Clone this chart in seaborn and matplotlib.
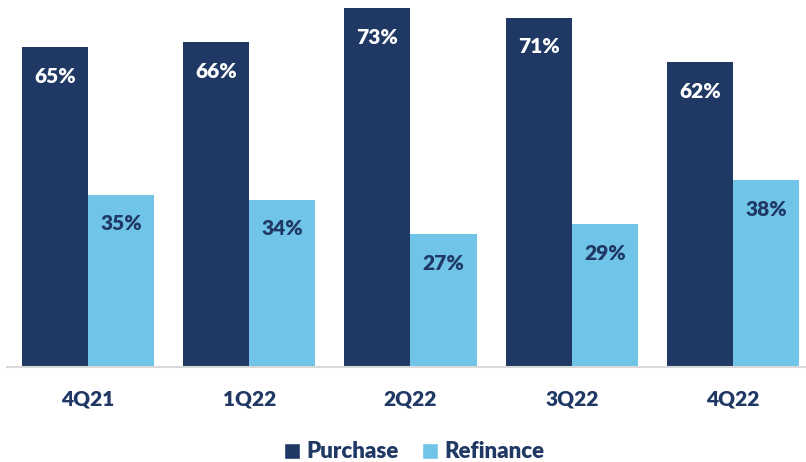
import matplotlib
matplotlib.use("Agg")
import matplotlib.pyplot as plt
from matplotlib.patches import Patch
import seaborn as sns
import pandas as pd

quarters = ["4Q21", "1Q22", "2Q22", "3Q22", "4Q22"]
purchase = [65, 66, 73, 71, 62]
refinance = [35, 34, 27, 29, 38]
series = ["Purchase", "Refinance"]

NAVY = "#1F3864"
LIGHT = "#70C4E8"
FONT = "Lato"
WEIGHT = "heavy"

df = pd.DataFrame({
    "quarter": quarters * 2,
    "share": purchase + refinance,
    "type": [series[0]] * len(quarters) + [series[1]] * len(quarters),
})

sns.set_theme(style="white")
plt.rcParams["font.family"] = [FONT, "DejaVu Sans"]

fig = plt.figure(figsize=(8.06, 4.62), dpi=100)
ax = fig.add_axes([7.4 / 806, 1 - 367 / 462, (806 - 7.4) / 806, 367 / 462])

sns.barplot(data=df, x="quarter", y="share", hue="type", order=quarters,
            hue_order=series, palette=[NAVY, LIGHT], width=0.82,
            saturation=1, legend=False, linewidth=0, ax=ax)

ax.set_xlim(-0.5, 4.453)
ax.set_ylim(0, 74.6)
ax.set_xlabel("")
ax.set_ylabel("")
ax.set_yticks([])
for side in ["top", "left", "right"]:
    ax.spines[side].set_visible(False)
ax.spines["bottom"].set_color("#D9D9D9")
ax.spines["bottom"].set_linewidth(1.5)
ax.tick_params(axis="x", length=0, pad=16, labelsize=15, labelcolor=NAVY)
for lbl in ax.get_xticklabels():
    lbl.set_fontweight(WEIGHT)

for container, txt_color in zip(ax.containers, ["white", NAVY]):
    for bar in container:
        h = bar.get_height()
        ax.annotate(f"{h:.0f}%", (bar.get_x() + bar.get_width() / 2, h),
                    xytext=(0, -21), textcoords="offset points",
                    ha="center", va="center", fontsize=15,
                    fontweight=WEIGHT, color=txt_color)

handles = [Patch(facecolor=NAVY, label=series[0]),
           Patch(facecolor=LIGHT, label=series[1])]
fig.legend(handles=handles, loc="center", bbox_to_anchor=(414 / 806, 1 - 452 / 462),
           ncol=2, frameon=False, handlelength=0.72, handleheight=0.72,
           handletextpad=0.3, columnspacing=1.04,
           prop={"family": FONT, "weight": WEIGHT, "size": 16})
for t in fig.legends[0].get_texts():
    t.set_color(NAVY)

fig.savefig("out.png", dpi=100)
